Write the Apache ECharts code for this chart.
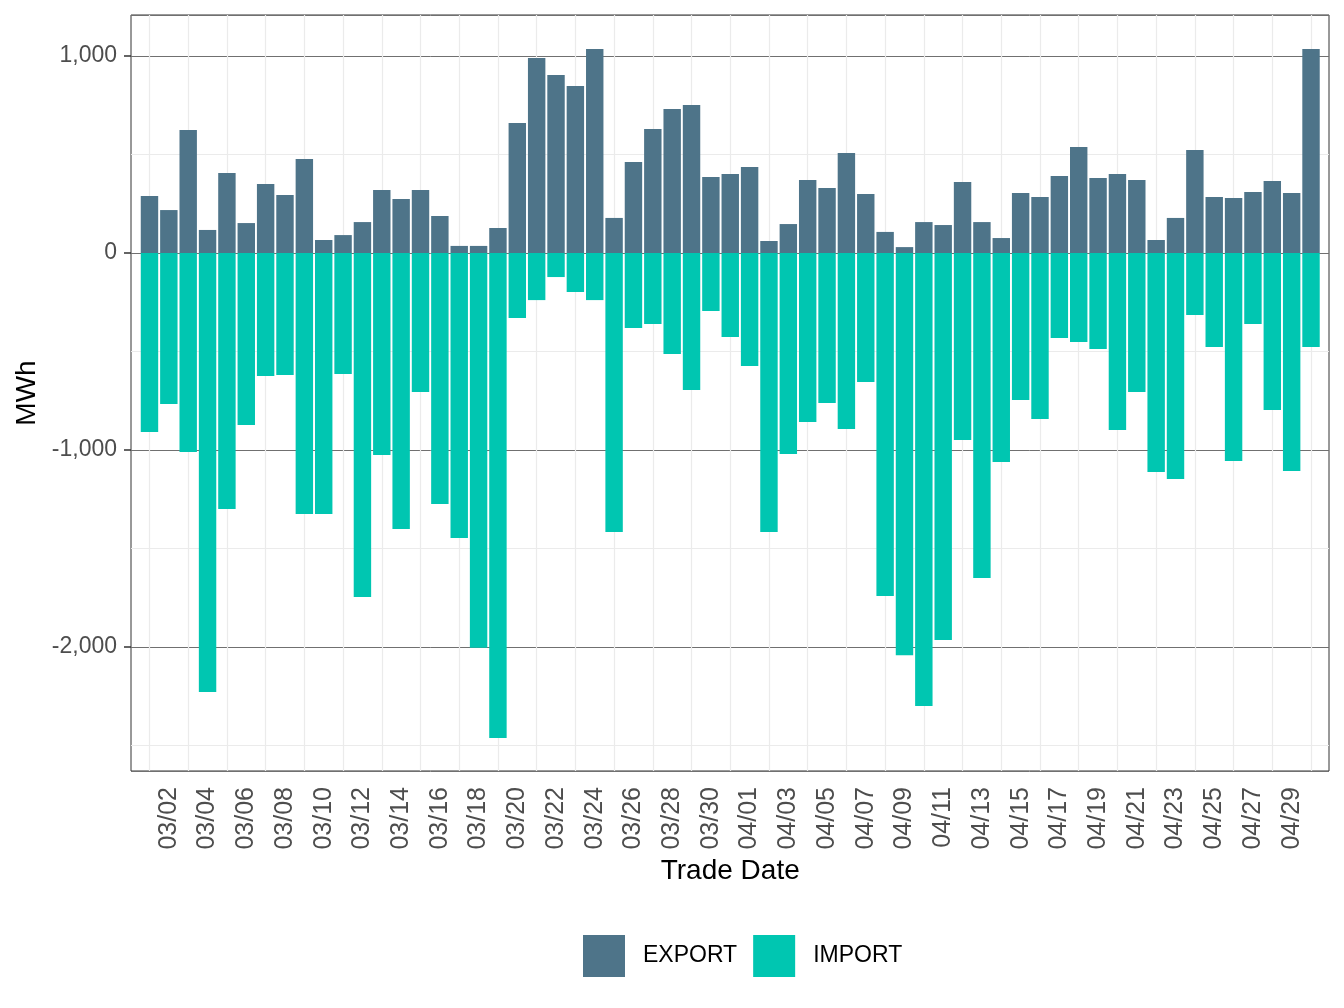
<!DOCTYPE html>
<html>
<head>
<meta charset="utf-8">
<script src="https://cdn.jsdelivr.net/npm/echarts@6/dist/echarts.min.js"></script>
<style>
  html, body { margin: 0; padding: 0; background: #fff; }
  #myChart { width: 1344px; height: 1008px; }
</style>
</head>
<body>
<div id="myChart"></div>
<script>
// trade dates 03/01 - 04/30
const tradeDates = [
  '03/01', '03/02', '03/03', '03/04', '03/05', '03/06', '03/07', '03/08', '03/09', '03/10',
  '03/11', '03/12', '03/13', '03/14', '03/15', '03/16', '03/17', '03/18', '03/19', '03/20',
  '03/21', '03/22', '03/23', '03/24', '03/25', '03/26', '03/27', '03/28', '03/29', '03/30',
  '03/31', '04/01', '04/02', '04/03', '04/04', '04/05', '04/06', '04/07', '04/08', '04/09',
  '04/10', '04/11', '04/12', '04/13', '04/14', '04/15', '04/16', '04/17', '04/18', '04/19',
  '04/20', '04/21', '04/22', '04/23', '04/24', '04/25', '04/26', '04/27', '04/28', '04/29',
  '04/30'
]
// MWh
const exportVals = [
  289, 218, 624, 117, 406, 152, 350, 294, 477, 66,
  91, 157, 320, 274, 320, 188, 36, 36, 127, 660,
  990, 904, 848, 1036, 178, 462, 629, 731, 751, 386,
  401, 437, 61, 147, 371, 330, 508, 300, 107, 30,
  157, 142, 360, 157, 76, 305, 284, 391, 538, 381,
  401, 371, 66, 178, 523, 284, 279, 310, 365, 305,
  1036
]
const importVals = [
  -909, -766, -1010, -2228, -1299, -873, -624, -619, -1325, -1325,
  -614, -1746, -1025, -1401, -706, -1274, -1447, -2003, -2462, -330,
  -239, -122, -198, -239, -1416, -381, -360, -513, -695, -294,
  -426, -574, -1416, -1020, -858, -761, -893, -655, -1741, -2041,
  -2299, -1964, -949, -1650, -1061, -746, -843, -431, -452, -487,
  -898, -706, -1112, -1147, -315, -477, -1056, -360, -797, -1107,
  -477
]
const seriesNames = ['EXPORT', 'IMPORT']
const seriesColors = ['#4e7489', '#00c6b1']

const yMin = -2629
const yMax = 1208

function fmtThousands(v) {
  if (Math.abs(v % 1000) > 1e-6) return ''
  return String(v).replace(/\B(?=(\d{3})+(?!\d))/g, ',')
}

let myChart = echarts.init(document.getElementById('myChart'))
myChart.setOption({
  animation: false,
  textStyle: { fontFamily: 'Liberation Sans' },
  grid: [
    // panel (border + horizontal grid)
    { left: 131, right: 15, top: 15, bottom: 237, outerBoundsMode: 'none', show: true, borderColor: '#333', borderWidth: 1, backgroundColor: 'transparent' },
    // bars
    { left: 139.8, right: 23.3, top: 15, bottom: 237, outerBoundsMode: 'none' },
  ],
  legend: {
    data: seriesNames,
    left: 583,
    top: 935,
    padding: 0,
    icon: 'rect',
    itemWidth: 42,
    itemHeight: 42,
    itemGap: 16,
    textStyle: { fontSize: 23, color: '#000', padding: [0, 0, 0, 13] },
  },
  xAxis: [
    { type: 'value', gridIndex: 0, min: 0, max: 1, show: false },
    {
      type: 'category',
      gridIndex: 1,
      data: tradeDates,
      boundaryGap: true,
      name: 'Trade Date',
      nameLocation: 'middle',
      nameGap: 81,
      nameTextStyle: { fontSize: 28, color: '#000' },
      axisLine: { show: false },
      axisTick: {
        show: true,
        alignWithLabel: true,
        interval: (i) => i % 2 === 1,
        length: 7,
        lineStyle: { color: '#333', width: 1.5 },
      },
      axisLabel: {
        interval: (i) => i % 2 === 1,
        rotate: 90,
        margin: 16,
        fontSize: 25,
        color: '#4d4d4d',
      },
      splitLine: {
        show: true,
        alignWithLabel: true,
        interval: (i) => i % 2 === 0,
        lineStyle: { color: '#ebebeb', width: 1.2 },
      },
    },
  ],
  yAxis: [
    {
      type: 'value',
      gridIndex: 0,
      position: 'left',
      min: yMin,
      max: yMax,
      splitNumber: 7,
      axisLine: { show: false },
      axisTick: { show: false },
      axisLabel: { show: false },
      splitLine: { show: true, lineStyle: { color: '#ebebeb', width: 1.2 } },
    },
    {
      type: 'value',
      gridIndex: 0,
      position: 'left',
      offset: 0,
      min: yMin,
      max: yMax,
      splitNumber: 4,
      name: 'MWh',
      nameLocation: 'middle',
      nameGap: 89,
      nameTextStyle: { fontSize: 28, color: '#000' },
      axisLine: { show: false },
      axisTick: { show: true, length: 7, lineStyle: { color: '#333', width: 1.5 } },
      axisLabel: {
        showMinLabel: false,
        showMaxLabel: false,
        margin: 14,
        fontSize: 23,
        color: '#4d4d4d',
        formatter: fmtThousands,
      },
      splitLine: { show: true, lineStyle: { color: '#707070', width: 1 } },
    },
    { type: 'value', gridIndex: 1, min: yMin, max: yMax, show: false, splitLine: { show: false } },
  ],
  series: [
    {
      name: seriesNames[0],
      type: 'bar',
      xAxisIndex: 1,
      yAxisIndex: 2,
      stack: 'total',
      barWidth: '90%',
      itemStyle: { color: seriesColors[0] },
      data: exportVals,
    },
    {
      name: seriesNames[1],
      type: 'bar',
      xAxisIndex: 1,
      yAxisIndex: 2,
      stack: 'total',
      barWidth: '90%',
      itemStyle: { color: seriesColors[1] },
      data: importVals,
    },
  ],
})
</script>
</body>
</html>
